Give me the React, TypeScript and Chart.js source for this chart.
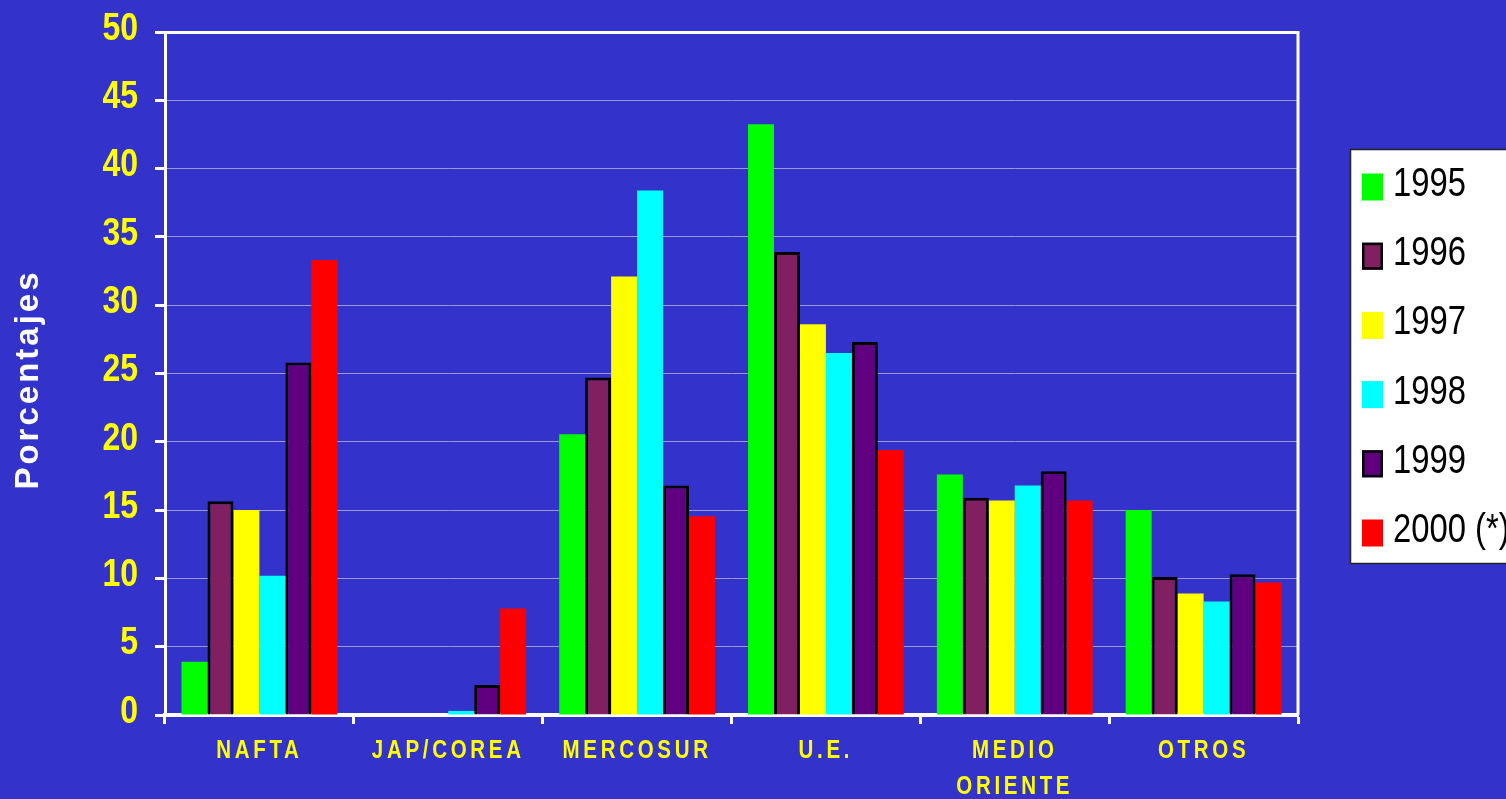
import React, { useEffect, useRef } from "react";
import { Chart, registerables } from "chart.js";

Chart.register(...registerables);

// ---- Data ----
const categories: (string | string[])[] = ["NAFTA", "JAP/COREA", "MERCOSUR", "U.E.", ["MEDIO", "ORIENTE"], "OTROS"];
const seriesLabels = ["1995", "1996", "1997", "1998", "1999", "2000 (*)"];
const values1995 = [3.9, 0, 20.55, 43.25, 17.6, 15.0];
const values1996 = [15.65, 0, 24.7, 33.9, 15.9, 10.1];
const values1997 = [15.0, 0, 32.1, 28.6, 15.7, 8.9];
const values1998 = [10.2, 0.3, 38.4, 26.5, 16.8, 8.3];
const values1999 = [25.8, 2.2, 16.8, 27.3, 17.85, 10.3];
const values2000 = [33.3, 7.8, 14.55, 19.4, 15.7, 9.7];
const yMin = 0;
const yMax = 50;
const yStep = 5;
const yTitle = "Porcentajes";

const seriesValues = [values1995, values1996, values1997, values1998, values1999, values2000];
const seriesColors = ["#00FF00", "#802060", "#FFFF00", "#00FFFF", "#600080", "#FF0000"];
const seriesBorders = [0, 3, 0, 0, 3, 0];

const BG = "#3333CC";
const SANS = "'Liberation Sans', Arial, sans-serif";
const NARROW_X = 0.82; // horizontal squeeze to imitate a narrow face

// draws the scale's own label items, squeezed horizontally
function narrowLabels(scale: any, sx: number, spacing: string) {
  if (scale.__narrow) return;
  scale.__narrow = true;
  scale.drawLabels = (chartArea: any) => {
    const ctx = scale.ctx as CanvasRenderingContext2D;
    const items = scale.getLabelItems(chartArea);
    for (const item of items) {
      const o = item.options;
      ctx.save();
      ctx.translate(o.translation[0], o.translation[1]);
      ctx.scale(sx, 1);
      ctx.font = item.font.string;
      ctx.fillStyle = o.color;
      ctx.textAlign = o.textAlign;
      ctx.textBaseline = o.textBaseline;
      (ctx as any).letterSpacing = spacing;
      const lines = Array.isArray(item.label) ? item.label : [item.label];
      lines.forEach((ln: string, i: number) => ctx.fillText(ln, 0, item.textOffset + i * item.font.lineHeight));
      ctx.restore();
    }
  };
}

const frameAndLegend = {
  id: "frameAndLegend",
  afterDraw(chart: any) {
    const ctx = chart.ctx as CanvasRenderingContext2D;
    const a = chart.chartArea;
    ctx.save();
    // right frame line
    ctx.strokeStyle = "#FFFFFF";
    ctx.lineWidth = 3;
    ctx.beginPath();
    ctx.moveTo(a.right, a.top - 1);
    ctx.lineTo(a.right, a.bottom);
    ctx.stroke();

    // legend box
    const lx = 1350, ly = 149, lw = 170, lh = 415;
    ctx.fillStyle = "#FFFFFF";
    ctx.fillRect(lx, ly, lw, lh);
    ctx.strokeStyle = "#222222";
    ctx.lineWidth = 1.5;
    ctx.strokeRect(lx + 0.5, ly + 0.5, lw, lh - 1);

    chart.data.datasets.forEach((ds: any, i: number) => {
      const cy = 187 + i * 69.2;
      const bx = 1362, bw = 21, bh = 27;
      ctx.fillStyle = ds.backgroundColor;
      ctx.fillRect(bx, cy - bh / 2, bw, bh);
      if (ds.borderWidth > 0) {
        ctx.strokeStyle = "#000000";
        ctx.lineWidth = 2.5;
        ctx.strokeRect(bx + 1.25, cy - bh / 2 + 1.25, bw - 2.5, bh - 2.5);
      }
      ctx.save();
      ctx.translate(1393, cy - 2);
      ctx.scale(NARROW_X, 1);
      ctx.font = `40px ${SANS}`;
      ctx.textBaseline = "middle";
      ctx.textAlign = "left";
      ctx.fillStyle = "#000000";
      ctx.fillText(ds.label, 0, 0);
      ctx.restore();
    });
    ctx.restore();
  },
};

export default function App() {
  const ref = useRef<HTMLCanvasElement | null>(null);

  useEffect(() => {
    if (!ref.current) return;
    const chart = new Chart(ref.current, {
      type: "bar",
      data: {
        labels: categories as any,
        datasets: seriesLabels.map((label, i) => ({
          label,
          data: seriesValues[i],
          backgroundColor: seriesColors[i],
          borderColor: "#000000",
          borderWidth: seriesBorders[i],
          categoryPercentage: 0.825,
          barPercentage: 1,
        })),
      },
      options: {
        responsive: false,
        animation: false,
        devicePixelRatio: 1,
        layout: { padding: { left: 0, top: 32, right: 208, bottom: 0 } },
        plugins: {
          legend: { display: false },
          tooltip: { enabled: false },
        },
        scales: {
          x: {
            offset: true,
            grid: {
              offset: true,
              drawOnChartArea: false,
              drawTicks: true,
              tickLength: 9,
              tickColor: "#FFFFFF",
              tickWidth: 3,
            },
            border: { color: "#FFFFFF", width: 4 },
            ticks: {
              color: "#FFFF00",
              padding: 9,
              autoSkip: false,
              maxRotation: 0,
              font: { family: SANS, size: 25, weight: "bold", lineHeight: 1.44 },
            },
            afterFit(scale: any) {
              scale.height = 84;
              scale.paddingLeft = 0;
              scale.paddingRight = 0;
              narrowLabels(scale, NARROW_X, "4.5px");
            },
          },
          y: {
            min: yMin,
            max: yMax,
            ticks: {
              stepSize: yStep,
              color: "#FFFF00",
              padding: 17,
              labelOffset: -3,
              font: { family: SANS, size: 39, weight: "bold" },
            },
            grid: {
              color: (c: any) => (c.tick && c.tick.value === yMax ? "#FFFFFF" : "#9A9AD0"),
              lineWidth: (c: any) => (c.tick && c.tick.value === yMax ? 3 : 1),
              drawTicks: true,
              tickLength: 10,
              tickColor: "#FFFFFF",
              tickWidth: 3,
            },
            border: { color: "#FFFFFF", width: 3 },
            title: {
              display: true,
              text: yTitle,
              color: "#FFFFFF",
              font: { family: SANS, size: 33, weight: "bold", lineHeight: 1.2 },
              padding: { top: 9, bottom: 0 },
            },
            afterFit(scale: any) {
              scale.width = 165;
              scale.paddingTop = 0;
              scale.paddingBottom = 0;
              narrowLabels(scale, NARROW_X, "0px");
              if (!scale.__ls) {
                const orig = scale.drawTitle.bind(scale);
                scale.drawTitle = (area: any) => {
                  const c = scale.ctx;
                  c.save();
                  c.translate(0, 6);
                  c.letterSpacing = "3px";
                  orig(area);
                  c.restore();
                };
                scale.__ls = true;
              }
            },
          },
        },
      },
      plugins: [frameAndLegend],
    });
    return () => chart.destroy();
  }, []);

  return (
    <div style={{ position: "absolute", left: 0, top: 0, width: 1506, height: 799, background: BG, overflow: "hidden" }}>
      <canvas ref={ref} width={1506} height={799} style={{ display: "block" }} />
    </div>
  );
}
